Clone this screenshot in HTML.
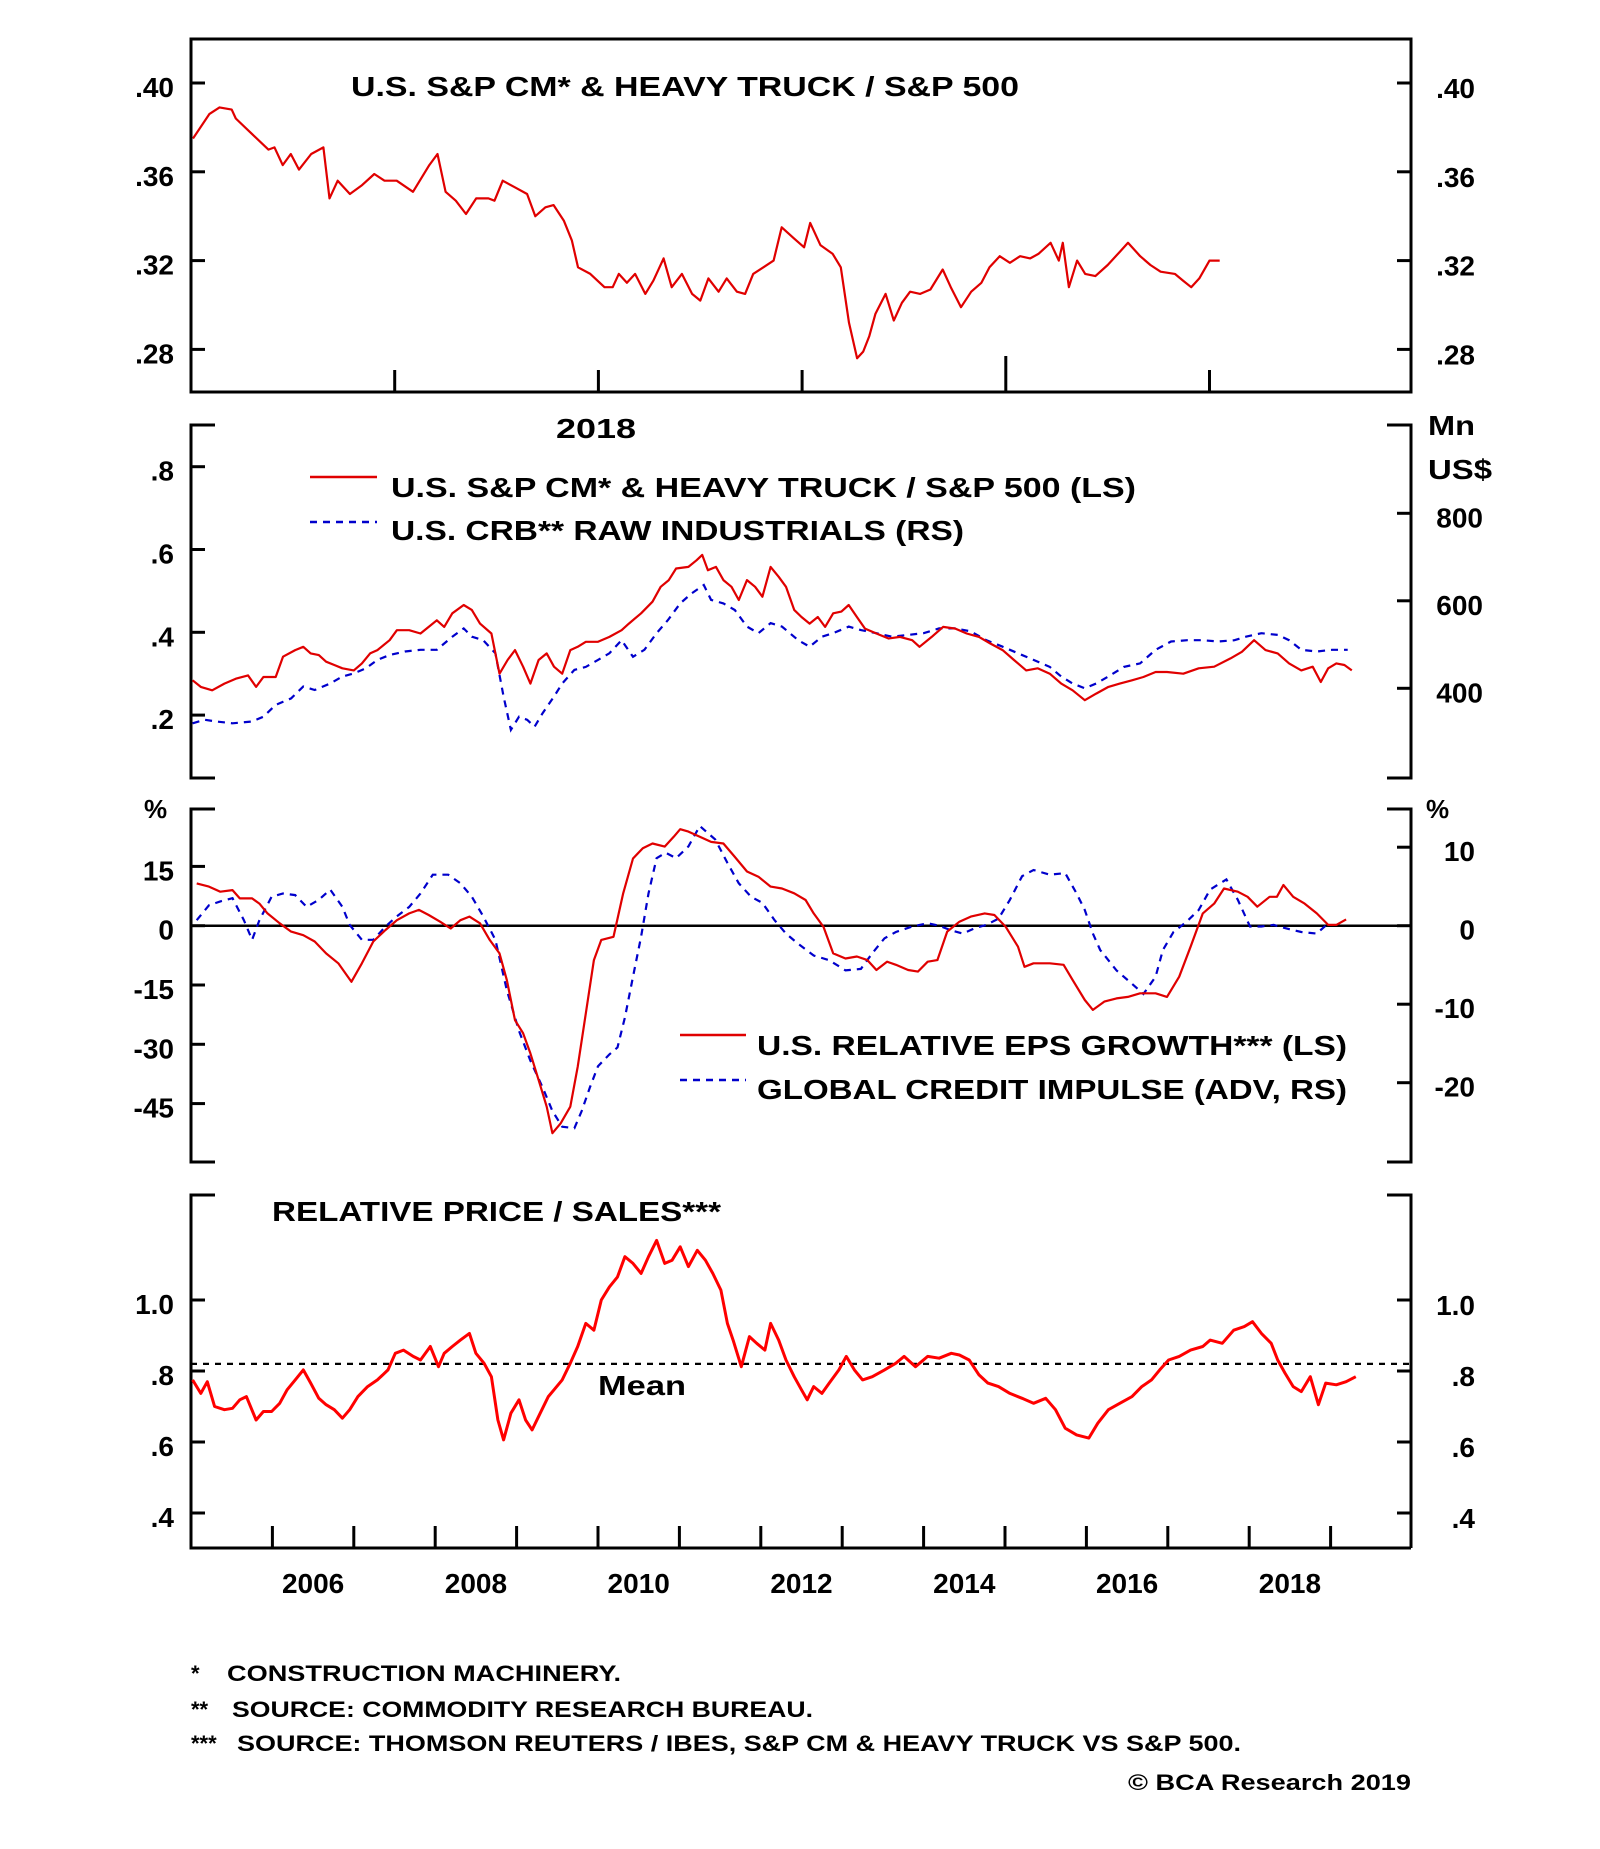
<!DOCTYPE html>
<html><head><meta charset="utf-8"><style>
html,body{margin:0;padding:0;background:#fff}
svg{display:block}
text{font-family:"Liberation Sans",Arial,sans-serif;font-weight:bold;fill:#000}
</style></head><body>
<svg id="chart" width="1600" height="1849" viewBox="0 0 1600 1849" xmlns="http://www.w3.org/2000/svg">
<g id="static">
  <rect x="191" y="39" width="1220" height="353" fill="none" stroke="#000" stroke-width="3"/>
  <text x="351" y="96" font-size="28" textLength="668" lengthAdjust="spacingAndGlyphs">U.S. S&amp;P CM* &amp; HEAVY TRUCK / S&amp;P 500</text>
  <text x="556" y="438" font-size="28" textLength="80" lengthAdjust="spacingAndGlyphs">2018</text>
  <text x="1428" y="435" font-size="28" textLength="47" lengthAdjust="spacingAndGlyphs">Mn</text>
  <text x="1428" y="479" font-size="28" textLength="64" lengthAdjust="spacingAndGlyphs">US$</text>
  <line x1="310" y1="477" x2="377" y2="477" stroke="#e00000" stroke-width="2.5"/>
  <text x="391" y="497" font-size="28" textLength="745" lengthAdjust="spacingAndGlyphs">U.S. S&amp;P CM* &amp; HEAVY TRUCK / S&amp;P 500 (LS)</text>
  <line x1="310" y1="522" x2="377" y2="522" stroke="#0000cc" stroke-width="2.5" stroke-dasharray="7,6"/>
  <text x="391" y="540" font-size="28" textLength="573" lengthAdjust="spacingAndGlyphs">U.S. CRB** RAW INDUSTRIALS (RS)</text>
  <text x="144" y="818" font-size="26">%</text>
  <text x="1426" y="818" font-size="26">%</text>
  <line x1="191" y1="925.7" x2="1411" y2="925.7" stroke="#000" stroke-width="2.5"/>
  <line x1="680" y1="1035" x2="746" y2="1035" stroke="#e00000" stroke-width="2.5"/>
  <text x="757" y="1055" font-size="28" textLength="590" lengthAdjust="spacingAndGlyphs">U.S. RELATIVE EPS GROWTH*** (LS)</text>
  <line x1="680" y1="1080" x2="746" y2="1080" stroke="#0000cc" stroke-width="2.5" stroke-dasharray="7,6"/>
  <text x="757" y="1099" font-size="28" textLength="590" lengthAdjust="spacingAndGlyphs">GLOBAL CREDIT IMPULSE (ADV, RS)</text>
  <text x="272" y="1221" font-size="28" textLength="449" lengthAdjust="spacingAndGlyphs">RELATIVE PRICE / SALES***</text>
  <text x="598" y="1395" font-size="28" textLength="88" lengthAdjust="spacingAndGlyphs">Mean</text>
  <text x="191" y="1681" font-size="22">*</text>
  <text x="227" y="1681" font-size="22" textLength="394" lengthAdjust="spacingAndGlyphs">CONSTRUCTION MACHINERY.</text>
  <text x="191" y="1717" font-size="22">**</text>
  <text x="232" y="1717" font-size="22" textLength="581" lengthAdjust="spacingAndGlyphs">SOURCE: COMMODITY RESEARCH BUREAU.</text>
  <text x="191" y="1751" font-size="22">***</text>
  <text x="237" y="1751" font-size="22" textLength="1004" lengthAdjust="spacingAndGlyphs">SOURCE: THOMSON REUTERS / IBES, S&amp;P CM &amp; HEAVY TRUCK VS S&amp;P 500.</text>
  <text x="1128" y="1790" font-size="22" textLength="283" lengthAdjust="spacingAndGlyphs">© BCA Research 2019</text>
</g>
<g id="dyn"></g>
</svg>
<script>
const p1Time=[0.01,0.09,0.14,0.20,0.22,0.30,0.38,0.41,0.45,0.49,0.53,0.59,0.65,0.68,0.72,0.78,0.84,0.90,0.95,1.01,1.09,1.17,1.21,1.25,1.30,1.35,1.40,1.46,1.49,1.53,1.59,1.65,1.69,1.74,1.78,1.83,1.87,1.90,1.96,2.03,2.07,2.10,2.14,2.18,2.23,2.27,2.32,2.36,2.41,2.46,2.50,2.54,2.59,2.63,2.68,2.72,2.76,2.81,2.86,2.90,2.96,3.01,3.04,3.09,3.15,3.19,3.23,3.27,3.30,3.33,3.36,3.41,3.45,3.49,3.53,3.58,3.63,3.69,3.73,3.78,3.83,3.88,3.92,3.97,4.02,4.07,4.12,4.16,4.22,4.26,4.28,4.31,4.35,4.39,4.44,4.50,4.56,4.60,4.66,4.71,4.76,4.83,4.87,4.91,4.95,5.00,5.05];
const p1Ratio=[.375,.386,.389,.388,.384,.377,.370,.371,.363,.368,.361,.368,.371,.348,.356,.350,.354,.359,.356,.356,.351,.363,.368,.351,.347,.341,.348,.348,.347,.356,.353,.350,.340,.344,.345,.338,.329,.317,.314,.308,.308,.314,.310,.314,.305,.311,.321,.308,.314,.305,.302,.312,.306,.312,.306,.305,.314,.317,.320,.335,.330,.326,.337,.327,.323,.317,.292,.276,.279,.286,.296,.305,.293,.301,.306,.305,.307,.316,.308,.299,.306,.310,.317,.322,.319,.322,.321,.323,.328,.320,.328,.308,.320,.314,.313,.318,.324,.328,.322,.318,.315,.314,.311,.308,.312,.320,.320];
const p1YTicks=[0.40,0.36,0.32,0.28];
const p1YLabels=[".40",".36",".32",".28"];
const p1XTicks=[1,2,3,4,5];

const p2RedYear=[2005.02,2005.12,2005.26,2005.41,2005.55,2005.70,2005.80,2005.89,2006.04,2006.13,2006.28,2006.38,2006.47,2006.57,2006.66,2006.76,2006.86,2007.00,2007.10,2007.20,2007.29,2007.44,2007.53,2007.68,2007.82,2007.92,2008.02,2008.11,2008.21,2008.35,2008.45,2008.55,2008.69,2008.79,2008.89,2008.98,2009.08,2009.17,2009.27,2009.37,2009.46,2009.56,2009.66,2009.75,2009.85,2010.00,2010.14,2010.29,2010.38,2010.53,2010.67,2010.77,2010.87,2010.96,2011.11,2011.21,2011.28,2011.35,2011.45,2011.54,2011.64,2011.73,2011.83,2011.93,2012.02,2012.12,2012.22,2012.31,2012.41,2012.50,2012.60,2012.70,2012.79,2012.89,2012.99,2013.08,2013.18,2013.28,2013.42,2013.57,2013.71,2013.86,2013.95,2014.10,2014.24,2014.39,2014.53,2014.68,2014.82,2014.97,2015.11,2015.26,2015.40,2015.55,2015.69,2015.83,2015.98,2016.12,2016.27,2016.41,2016.56,2016.70,2016.85,2016.99,2017.19,2017.38,2017.57,2017.77,2017.91,2018.06,2018.20,2018.35,2018.49,2018.64,2018.78,2018.88,2018.97,2019.07,2019.17,2019.26];
const p2RedValue=[.284,.268,.260,.276,.288,.296,.268,.292,.292,.341,.357,.365,.349,.345,.329,.321,.313,.308,.325,.349,.357,.381,.405,.405,.397,.413,.429,.413,.446,.466,.454,.421,.397,.300,.333,.357,.317,.276,.333,.349,.317,.300,.357,.365,.377,.377,.389,.405,.421,.446,.474,.510,.526,.554,.558,.574,.587,.550,.558,.526,.510,.478,.526,.510,.486,.558,.534,.510,.454,.437,.421,.437,.413,.446,.450,.466,.437,.409,.397,.385,.389,.381,.365,.389,.413,.409,.397,.389,.373,.357,.333,.308,.313,.300,.276,.260,.236,.252,.268,.276,.284,.292,.304,.304,.300,.313,.317,.337,.353,.381,.357,.349,.325,.308,.317,.280,.313,.325,.321,.308];
const p2BlueYear=[2005.02,2005.17,2005.31,2005.51,2005.75,2005.89,2006.04,2006.23,2006.38,2006.52,2006.71,2006.86,2007.00,2007.15,2007.29,2007.44,2007.63,2007.82,2008.02,2008.21,2008.35,2008.45,2008.59,2008.74,2008.84,2008.93,2009.03,2009.13,2009.22,2009.32,2009.46,2009.56,2009.71,2009.85,2010.00,2010.14,2010.29,2010.43,2010.57,2010.72,2010.86,2011.01,2011.15,2011.30,2011.39,2011.54,2011.68,2011.83,2011.97,2012.12,2012.26,2012.46,2012.60,2012.75,2012.89,2013.08,2013.23,2013.42,2013.61,2013.81,2014.00,2014.19,2014.39,2014.58,2014.77,2014.97,2015.16,2015.35,2015.55,2015.69,2015.83,2015.98,2016.12,2016.27,2016.46,2016.66,2016.85,2017.04,2017.24,2017.43,2017.62,2017.82,2017.96,2018.15,2018.35,2018.49,2018.64,2018.83,2019.02,2019.21];
const p2BlueValue=[320,328,324,320,324,335,362,377,404,396,411,427,434,446,465,476,484,488,488,518,537,518,510,480,381,305,335,328,312,343,381,411,442,449,465,480,510,472,488,526,556,594,617,636,602,594,579,541,526,549,541,510,495,518,526,541,533,526,518,522,526,537,537,530,510,495,480,465,449,427,411,400,411,427,449,457,488,507,510,510,507,510,518,526,522,510,488,484,488,488];
const p2LeftTicks=[0.8,0.6,0.4,0.2];
const p2LeftLabels=[".8",".6",".4",".2"];
const p2RightTicks=[800,600,400];
const p2RightLabels=["800","600","400"];

const p3RedYear=[2005.07,2005.22,2005.36,2005.51,2005.60,2005.75,2005.84,2005.94,2006.09,2006.23,2006.38,2006.52,2006.66,2006.81,2006.97,2007.10,2007.24,2007.39,2007.53,2007.68,2007.80,2007.92,2008.06,2008.19,2008.31,2008.42,2008.55,2008.67,2008.79,2008.88,2008.98,2009.08,2009.17,2009.27,2009.37,2009.44,2009.54,2009.66,2009.75,2009.85,2009.95,2010.04,2010.19,2010.31,2010.43,2010.55,2010.67,2010.82,2010.93,2011.01,2011.11,2011.25,2011.39,2011.54,2011.68,2011.83,2011.97,2012.12,2012.26,2012.41,2012.55,2012.65,2012.77,2012.89,2013.04,2013.18,2013.31,2013.42,2013.55,2013.66,2013.81,2013.93,2014.05,2014.17,2014.29,2014.44,2014.58,2014.75,2014.87,2015.01,2015.16,2015.24,2015.35,2015.55,2015.72,2015.83,2015.98,2016.08,2016.22,2016.37,2016.51,2016.66,2016.85,2016.99,2017.14,2017.28,2017.43,2017.57,2017.69,2017.86,2017.98,2018.10,2018.25,2018.34,2018.42,2018.54,2018.68,2018.83,2018.97,2019.07,2019.19];
const p3RedValue=[10.7,9.9,8.6,9.0,6.9,6.9,5.6,3.1,0.6,-1.5,-2.4,-4.0,-7.0,-9.5,-14.2,-9.5,-4.0,-1.1,1.4,3.1,4.0,2.7,1.0,-0.7,1.4,2.3,0.6,-3.6,-7.0,-13.7,-23.9,-27.2,-32.3,-39.0,-45.8,-52.5,-50.0,-45.8,-35.7,-22.2,-8.7,-3.6,-2.8,8.2,17.0,19.6,20.8,20.0,22.5,24.4,23.8,22.5,21.2,20.8,17.4,13.7,12.4,9.9,9.4,8.2,6.5,3.1,-0.3,-7.0,-8.3,-7.8,-8.7,-11.2,-9.1,-9.9,-11.2,-11.6,-9.1,-8.7,-1.5,1.0,2.3,3.1,2.7,-0.3,-5.3,-10.4,-9.5,-9.5,-9.9,-13.7,-18.8,-21.3,-19.2,-18.4,-18.0,-17.1,-17.1,-18.0,-12.9,-5.3,3.1,5.6,9.4,8.6,7.3,4.8,7.3,7.3,10.3,7.3,5.6,3.1,0.2,0.2,1.6];
const p3BlueYear=[2005.07,2005.22,2005.36,2005.51,2005.65,2005.75,2005.84,2005.99,2006.13,2006.28,2006.42,2006.57,2006.71,2006.86,2006.95,2007.10,2007.24,2007.39,2007.53,2007.68,2007.82,2007.97,2008.16,2008.31,2008.45,2008.59,2008.74,2008.88,2009.03,2009.17,2009.32,2009.44,2009.56,2009.71,2009.80,2009.90,2010.00,2010.14,2010.24,2010.33,2010.43,2010.53,2010.62,2010.72,2010.83,2010.96,2011.11,2011.25,2011.35,2011.44,2011.59,2011.73,2011.88,2012.02,2012.17,2012.31,2012.46,2012.65,2012.84,2013.04,2013.23,2013.37,2013.52,2013.66,2013.86,2014.05,2014.19,2014.34,2014.48,2014.63,2014.77,2014.92,2015.06,2015.21,2015.35,2015.55,2015.74,2015.88,2015.98,2016.08,2016.17,2016.37,2016.56,2016.70,2016.85,2016.94,2017.07,2017.23,2017.38,2017.52,2017.72,2017.86,2018.01,2018.15,2018.30,2018.44,2018.64,2018.83,2018.97];
const p3BlueValue=[0.7,2.6,3.1,3.5,0.7,-1.8,0.7,3.7,4.1,3.9,2.4,3.3,4.6,2.4,0.1,-1.8,-1.8,-0.1,1.2,2.4,4.1,6.5,6.5,5.4,3.7,1.2,-1.8,-8.2,-13.4,-17.2,-20.6,-23.6,-25.6,-25.8,-23.6,-20.6,-17.9,-16.4,-15.5,-11.7,-6.5,-1.4,4.1,8.6,9.3,8.6,10.1,12.7,11.8,11.0,8.0,5.4,3.7,2.9,0.7,-1.0,-2.3,-3.8,-4.4,-5.7,-5.5,-3.5,-1.6,-0.8,-0.1,0.3,0.0,-0.6,-1.0,-0.3,0.1,0.9,3.3,6.3,7.1,6.5,6.7,4.1,2.0,-1.0,-3.1,-5.7,-7.4,-8.7,-6.5,-3.1,-0.8,0.5,2.0,4.6,5.9,3.3,-0.1,-0.1,0.1,-0.3,-0.8,-1.0,0.3];
const p3LeftTicks=[15,0,-15,-30,-45];
const p3LeftLabels=["15","0","-15","-30","-45"];
const p3RightTicks=[10,0,-10,-20];
const p3RightLabels=["10","0","-10","-20"];

const p4Year=[2005.02,2005.12,2005.20,2005.29,2005.41,2005.51,2005.60,2005.68,2005.80,2005.89,2005.99,2006.09,2006.18,2006.28,2006.38,2006.47,2006.57,2006.66,2006.76,2006.86,2006.95,2007.05,2007.17,2007.29,2007.42,2007.51,2007.61,2007.73,2007.82,2007.94,2008.04,2008.11,2008.21,2008.31,2008.42,2008.50,2008.60,2008.69,2008.77,2008.84,2008.93,2009.03,2009.11,2009.19,2009.29,2009.39,2009.46,2009.56,2009.66,2009.75,2009.85,2009.95,2010.04,2010.14,2010.24,2010.33,2010.43,2010.53,2010.62,2010.72,2010.82,2010.91,2011.01,2011.11,2011.22,2011.32,2011.41,2011.51,2011.59,2011.66,2011.76,2011.86,2011.95,2012.05,2012.12,2012.22,2012.31,2012.41,2012.50,2012.57,2012.65,2012.75,2012.84,2012.96,2013.05,2013.15,2013.25,2013.37,2013.52,2013.66,2013.76,2013.90,2014.05,2014.19,2014.34,2014.44,2014.56,2014.68,2014.79,2014.92,2015.06,2015.21,2015.35,2015.50,2015.62,2015.74,2015.88,2016.03,2016.14,2016.27,2016.41,2016.56,2016.68,2016.80,2016.90,2017.01,2017.14,2017.28,2017.43,2017.52,2017.67,2017.81,2017.94,2018.04,2018.15,2018.27,2018.35,2018.44,2018.54,2018.64,2018.75,2018.85,2018.94,2019.07,2019.19,2019.31];
const p4Value=[.775,.737,.770,.700,.691,.695,.719,.728,.662,.686,.686,.709,.747,.775,.803,.766,.723,.705,.691,.667,.691,.728,.756,.775,.803,.850,.859,.841,.831,.869,.812,.850,.869,.887,.906,.850,.822,.784,.662,.606,.681,.719,.662,.634,.681,.728,.747,.775,.822,.869,.934,.915,1.000,1.037,1.065,1.122,1.103,1.075,1.122,1.168,1.103,1.112,1.150,1.094,1.140,1.112,1.075,1.028,.934,.887,.812,.897,.878,.859,.934,.887,.831,.784,.747,.719,.756,.737,.766,.803,.841,.803,.775,.784,.803,.822,.841,.812,.841,.836,.850,.845,.831,.789,.766,.756,.737,.723,.709,.723,.691,.639,.620,.611,.653,.691,.709,.728,.756,.775,.803,.831,.841,.859,.869,.887,.878,.915,.925,.939,.906,.878,.831,.794,.756,.742,.784,.705,.766,.761,.770,.784];
const p4Mean=[0.82];
const p4YTicks=[1.0,0.8,0.6,0.4];
const p4LeftLabels=["1.0",".8",".6",".4"];
const p4RightLabels=["1.0",".8",".6",".4"];
const yearTicks=[2006,2007,2008,2009,2010,2011,2012,2013,2014,2015,2016,2017,2018,2019];
const yearLabels=["2006","2008","2010","2012","2014","2016","2018"];

const L=191,R=1411;
const xYear=y=>L+(y-2005)*81.4;
const x1=t=>L+t*203.7;
const y1=v=>83+(0.40-v)*2220;
const y2L=v=>466.7+(0.8-v)*414;
const y2R=v=>513.3+(800-v)*0.4375;
const y3L=v=>925.7-v*3.953;
const y3R=v=>925.7-v*7.85;
const y4=v=>1300+(1.0-v)*355;

const NS="http://www.w3.org/2000/svg";
const root=document.getElementById('dyn');
function mk(tag,attrs){const e=document.createElementNS(NS,tag);for(const k in attrs)e.setAttribute(k,attrs[k]);root.appendChild(e);return e;}
function pathD(xs,ys,fx,fy){return xs.map((x,i)=>(i?'L':'M')+fx(x).toFixed(1)+','+fy(ys[i]).toFixed(1)).join('');}
function txt(s,x,y,anchor,size){const e=mk('text',{x:x,y:y,'text-anchor':anchor,'font-size':size});e.textContent=s;return e;}

function bracket(top,bot,closedBottom){
  let e;
  e=mk('path',{d:`M${L+24},${top}H${L}V${bot}`+(closedBottom?`H${R}`:`H${L+24}`),fill:'none',stroke:'#000','stroke-width':3});
  
  
  e=mk('path',{d:`M${R-24},${top}H${R}V${bot}`+(closedBottom?'':`H${R-24}`),fill:'none',stroke:'#000','stroke-width':3});
  
  
}
bracket(425,778,false);
bracket(809,1162,false);
bracket(1195,1548,true);

function ytick(y,side){
  const e=mk('line',side==='L'?{x1:L,x2:L+14,y1:y,y2:y,stroke:'#000','stroke-width':3}:{x1:R-14,x2:R,y1:y,y2:y,stroke:'#000','stroke-width':3});
  
  
}
function ylabL(s,y){const e=txt(s,174,y+14,'end',28);}
function ylabR(s,y,xr){const e=txt(s,xr,y+14,'end',28);}

p1YTicks.forEach((v,i)=>{ytick(y1(v),'L');ytick(y1(v),'R');ylabL(p1YLabels[i],y1(v));ylabR(p1YLabels[i],y1(v)+1,1475);});
p1XTicks.forEach(t=>{
  const e=mk('line',{x1:x1(t),x2:x1(t),y1:t===4?356:370,y2:392,stroke:'#000','stroke-width':3});
  
  
});
p2LeftTicks.forEach((v,i)=>{ytick(y2L(v),'L');ylabL(p2LeftLabels[i],y2L(v));});
p2RightTicks.forEach((v,i)=>{ytick(y2R(v),'R');ylabR(p2RightLabels[i],y2R(v),1483);});
p3LeftTicks.forEach((v,i)=>{ytick(y3L(v),'L');ylabL(p3LeftLabels[i],y3L(v));});
p3RightTicks.forEach((v,i)=>{ytick(y3R(v),'R');ylabR(p3RightLabels[i],y3R(v),1475);});
p4YTicks.forEach((v,i)=>{ytick(y4(v),'L');ytick(y4(v),'R');ylabL(p4LeftLabels[i],y4(v));ylabR(p4RightLabels[i],y4(v)+1,1475);});
yearTicks.forEach(yr=>{
  const e=mk('line',{x1:xYear(yr),x2:xYear(yr),y1:1526,y2:1548,stroke:'#000','stroke-width':3});
  
  
});
yearLabels.forEach(s=>{
  const e=txt(s,xYear(+s+0.5),1593,'middle',28);
  
  
});

let s;
s=mk('path',{d:pathD(p1Time,p1Ratio,x1,y1),fill:'none',stroke:'#e00000','stroke-width':2.2,'stroke-linejoin':'round'});



s=mk('path',{d:pathD(p2BlueYear,p2BlueValue,xYear,y2R),fill:'none',stroke:'#0000cc','stroke-width':2.2,'stroke-dasharray':'7,6'});


s=mk('path',{d:pathD(p2RedYear,p2RedValue,xYear,y2L),fill:'none',stroke:'#e00000','stroke-width':2.2,'stroke-linejoin':'round'});



s=mk('path',{d:pathD(p3BlueYear,p3BlueValue,xYear,y3R),fill:'none',stroke:'#0000cc','stroke-width':2.2,'stroke-dasharray':'7,6'});


s=mk('path',{d:pathD(p3RedYear,p3RedValue,xYear,y3L),fill:'none',stroke:'#e00000','stroke-width':2.2,'stroke-linejoin':'round'});



s=mk('line',{x1:L,x2:R,y1:y4(p4Mean[0]),y2:y4(p4Mean[0]),stroke:'#000','stroke-width':2.2,'stroke-dasharray':'6,6'});


s=mk('path',{d:pathD(p4Year,p4Value,xYear,y4),fill:'none',stroke:'#ff0000','stroke-width':3,'stroke-linejoin':'round'});


</script>
</body></html>
